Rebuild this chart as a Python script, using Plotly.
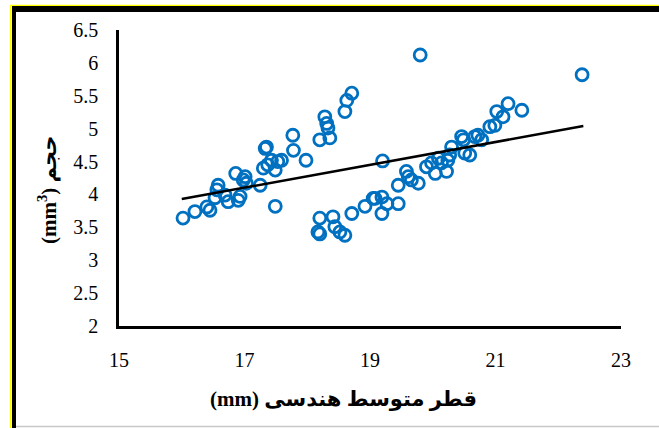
import plotly.graph_objects as go

# Geometric mean diameter (mm) and volume (mm3)
diameter = [16.02, 16.21, 16.40, 16.45, 16.56, 16.58, 16.53, 16.69, 16.74, 16.86,
            16.93, 16.90, 16.98, 17.01, 17.03, 17.25, 17.30, 17.33, 17.35, 17.37,
            17.43, 17.49, 17.49, 17.53, 17.59, 17.78, 17.77, 17.98, 18.20, 18.28,
            18.31, 18.36, 18.33, 18.60, 18.63, 18.71,
            18.20, 18.17, 18.20, 18.41, 18.44, 18.52, 18.60, 18.71, 18.92, 19.05,
            19.80, 22.38, 19.20, 19.08, 19.19, 19.19, 19.27, 19.45, 19.45, 19.58,
            19.61, 19.66, 19.77, 19.90, 19.98, 20.04, 20.09, 20.14, 20.22, 20.27,
            20.30, 20.24, 20.46, 20.49, 20.51, 20.59, 20.67, 20.72, 20.78, 20.91,
            20.99, 21.02, 21.12, 21.20, 21.42]
volume = [3.64, 3.74, 3.81, 3.76, 4.07, 4.14, 3.95, 3.99, 3.89, 4.32,
          3.97, 3.91, 4.22, 4.27, 4.17, 4.14, 4.40, 4.70, 4.72, 4.45,
          4.52, 4.37, 3.82, 4.50, 4.52, 4.67, 4.90, 4.52, 4.83, 5.18,
          5.08, 4.86, 5.01, 5.26, 5.43, 5.54,
          3.64, 3.43, 3.40, 3.66, 3.51, 3.43, 3.38, 3.71, 3.82, 3.94,
          6.12, 5.82, 4.51, 3.94, 3.96, 3.71, 3.86, 3.86, 4.14, 4.35,
          4.27, 4.22, 4.17, 4.42, 4.48, 4.32, 4.55, 4.48, 4.35, 4.60,
          4.72, 4.52, 4.88, 4.83, 4.63, 4.60, 4.88, 4.90, 4.83, 5.03,
          5.05, 5.26, 5.18, 5.38, 5.28]

# Linear trendline (end points)
trend_x = [16.0, 22.4]
trend_y = [3.93, 5.04]

x_ticks = [15, 17, 19, 21, 23]
y_ticks = [2, 2.5, 3, 3.5, 4, 4.5, 5, 5.5, 6, 6.5]
x_title = "<b>(mm) قطر متوسط هندسی</b>"
y_title = "<b>(mm<sup>3</sup>) حجم</b>"

FONT = "Liberation Serif, Times New Roman, DejaVu Sans, serif"

fig = go.Figure()
fig.add_trace(go.Scatter(
    x=diameter, y=volume, mode="markers",
    marker=dict(symbol="circle-open", size=12, color="#0070C0",
                line=dict(width=2.8, color="#0070C0")),
    showlegend=False, hoverinfo="skip"))
fig.add_trace(go.Scatter(
    x=trend_x, y=trend_y, mode="lines",
    line=dict(color="black", width=2.5),
    showlegend=False, hoverinfo="skip"))

W, H = 659, 428
L, R, T, B = 119, 621, 30, 326
pw, ph = R - L, B - T


def px(x):
    return (x - L) / pw


def py(y):
    return (B - y) / ph


shapes = [
    dict(type="line", xref="paper", yref="paper", x0=px(10.5), x1=px(10.5), y0=py(5), y1=py(428),
         line=dict(color="#FFFF00", width=1.5)),
    dict(type="line", xref="paper", yref="paper", x0=px(10), x1=px(659), y0=py(5.5), y1=py(5.5),
         line=dict(color="#FFFF00", width=1.5)),
    dict(type="line", xref="paper", yref="paper", x0=px(14), x1=px(14), y0=py(6), y1=py(428),
         line=dict(color="black", width=4)),
    dict(type="line", xref="paper", yref="paper", x0=px(12), x1=px(659), y0=py(9), y1=py(9),
         line=dict(color="black", width=6)),
    dict(type="line", xref="paper", yref="paper", x0=px(16), x1=px(659), y0=py(426.5), y1=py(426.5),
         line=dict(color="#C8C8C8", width=1.5)),
]

fig.update_layout(
    width=W, height=H,
    margin=dict(l=L, r=W - R, t=T, b=H - B, autoexpand=False),
    paper_bgcolor="white", plot_bgcolor="white",
    font=dict(family=FONT, size=20, color="black"),
    shapes=shapes,
    annotations=[
        dict(text=x_title, xref="paper", yref="paper", x=px(343), y=py(399),
             xanchor="center", yanchor="middle", showarrow=False,
             font=dict(family=FONT, size=21, color="black")),
        dict(text=y_title, xref="paper", yref="paper", x=px(47), y=py(190),
             xanchor="center", yanchor="middle", showarrow=False, textangle=-90,
             font=dict(family=FONT, size=21, color="black")),
    ],
)
fig.update_xaxes(range=[15, 23], tickvals=x_ticks, ticktext=[str(v) for v in x_ticks],
                 showgrid=False, zeroline=False, showline=True, linecolor="black", linewidth=2.5,
                 ticks="", ticklabelstandoff=14, tickfont=dict(family=FONT, size=20))
fig.update_yaxes(range=[2, 6.5], tickvals=y_ticks, ticktext=[f"{v:g}" for v in y_ticks],
                 showgrid=False, zeroline=False, showline=True, linecolor="black", linewidth=2.5,
                 ticks="", ticklabelstandoff=14, tickfont=dict(family=FONT, size=20))

fig.write_html("out.html", config={"displayModeBar": False},
               post_script="document.body.style.margin='0';document.body.style.overflow='hidden';")
